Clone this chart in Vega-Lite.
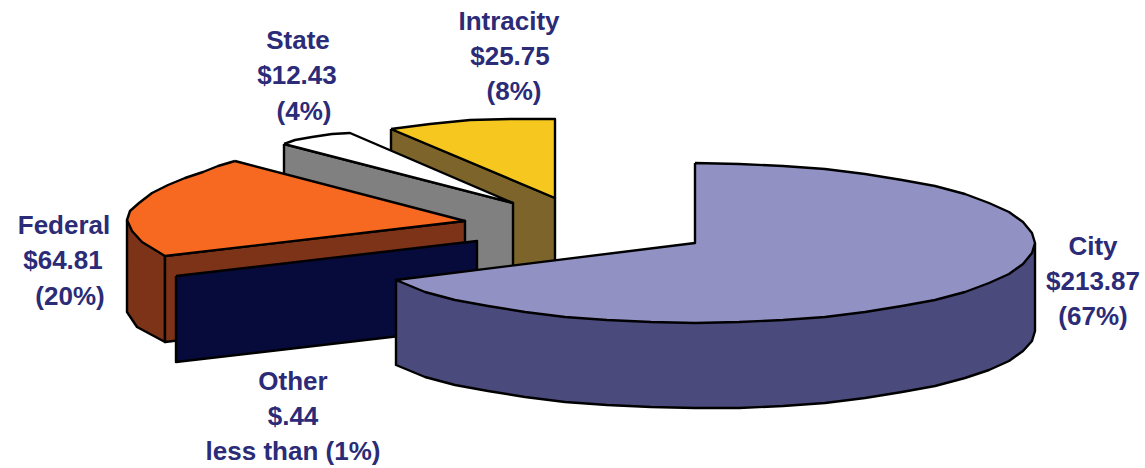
{"$schema":"https://vega.github.io/schema/vega-lite/v6.json","width":1145,"height":468,"autosize":{"type":"fit","contains":"padding"},"padding":0,"background":"white","view":{"stroke":null},"config":{"view":{"stroke":null}},
"layer":[
{"data":{"name":"outline"},"mark":{"type":"line","stroke":"black","strokeWidth":2.4,"strokeJoin":"round","interpolate":"linear"},"encoding":{
"x":{"field":"x","type":"quantitative","scale":{"domain":[0,1145],"nice":false,"zero":false},"axis":null},
"y":{"field":"y","type":"quantitative","scale":{"domain":[468,0],"nice":false,"zero":false},"axis":null},
"order":{"field":"i","type":"quantitative"},
"detail":{"field":"face","type":"nominal"},
"fill":{"field":"face","type":"nominal","legend":null,"scale":{"domain":["Intracity side","Intracity top","State side","State top","Federal side","Federal front","Federal top","Other","City side","City top"],"range":["#7C642A","#F6C81F","#808080","#FFFFFF","#7D3317","#7D3317","#F76820","#060B3B","#4A4A7C","#9191C3"]}}}},
{"data":{"name":"labels"},"mark":{"type":"text","font":"Liberation Sans","fontWeight":"bold","fontSize":26,"color":"#2B2B77","align":"center","baseline":"middle"},"encoding":{
"x":{"field":"x","type":"quantitative"},"y":{"field":"y","type":"quantitative"},"text":{"field":"line","type":"nominal"}}}
],
"datasets":{"labels":[
{"line":"City","x":1093,"y":247},{"line":"$213.87","x":1093,"y":282},{"line":"(67%)","x":1093,"y":317},
{"line":"State","x":298,"y":41},{"line":"$12.43","x":297,"y":76},{"line":"(4%)","x":304,"y":112},
{"line":"Intracity","x":509,"y":22},{"line":"$25.75","x":510,"y":57},{"line":"(8%)","x":514,"y":92},
{"line":"Federal","x":64,"y":226},{"line":"$64.81","x":63,"y":261},{"line":"(20%)","x":70,"y":297},
{"line":"Other","x":293,"y":382},{"line":"$.44","x":293,"y":417},{"line":"less than (1%)","x":293,"y":452}],
"outline":[
{"face":"Intracity side","i":0,"x":391,"y":129},{"face":"Intracity side","i":1,"x":555,"y":198},{"face":"Intracity side","i":2,"x":555,"y":295},{"face":"Intracity side","i":3,"x":391,"y":235},{"face":"Intracity side","i":4,"x":391,"y":129},
{"face":"Intracity top","i":0,"x":391,"y":129},{"face":"Intracity top","i":1,"x":430,"y":124},{"face":"Intracity top","i":2,"x":470,"y":120},{"face":"Intracity top","i":3,"x":510,"y":119},{"face":"Intracity top","i":4,"x":555,"y":119},{"face":"Intracity top","i":5,"x":555,"y":198},{"face":"Intracity top","i":6,"x":391,"y":129},
{"face":"State side","i":0,"x":284,"y":144},{"face":"State side","i":1,"x":513,"y":203},{"face":"State side","i":2,"x":513,"y":295},{"face":"State side","i":3,"x":284,"y":240},{"face":"State side","i":4,"x":284,"y":144},
{"face":"State top","i":0,"x":284,"y":144},{"face":"State top","i":1,"x":295,"y":140},{"face":"State top","i":2,"x":312,"y":137},{"face":"State top","i":3,"x":332,"y":134},{"face":"State top","i":4,"x":350,"y":133},{"face":"State top","i":5,"x":513,"y":203},{"face":"State top","i":6,"x":284,"y":144},
{"face":"Federal side","i":0,"x":127,"y":220},{"face":"Federal side","i":1,"x":127,"y":312},{"face":"Federal side","i":2,"x":137,"y":327},{"face":"Federal side","i":3,"x":165,"y":342},{"face":"Federal side","i":4,"x":165,"y":256},{"face":"Federal side","i":5,"x":127,"y":220},
{"face":"Federal front","i":0,"x":165,"y":256},{"face":"Federal front","i":1,"x":465,"y":221},{"face":"Federal front","i":2,"x":465,"y":305},{"face":"Federal front","i":3,"x":165,"y":342},{"face":"Federal front","i":4,"x":165,"y":256},
{"face":"Federal top","i":0,"x":235,"y":161},{"face":"Federal top","i":1,"x":218,"y":166},{"face":"Federal top","i":2,"x":203,"y":172},{"face":"Federal top","i":3,"x":185,"y":178},{"face":"Federal top","i":4,"x":168,"y":185},{"face":"Federal top","i":5,"x":152,"y":193},{"face":"Federal top","i":6,"x":139,"y":203},{"face":"Federal top","i":7,"x":130,"y":211},{"face":"Federal top","i":8,"x":127,"y":220},{"face":"Federal top","i":9,"x":132,"y":231},{"face":"Federal top","i":10,"x":142,"y":242},{"face":"Federal top","i":11,"x":165,"y":256},{"face":"Federal top","i":12,"x":465,"y":221},{"face":"Federal top","i":13,"x":235,"y":161},
{"face":"Other","i":0,"x":176,"y":276},{"face":"Other","i":1,"x":477,"y":241},{"face":"Other","i":2,"x":477,"y":327},{"face":"Other","i":3,"x":176,"y":362},{"face":"Other","i":4,"x":176,"y":276},
{"face":"City side","i":0,"x":1035,"y":243},{"face":"City side","i":1,"x":1035,"y":331},{"face":"City side","i":2,"x":1032,"y":341},{"face":"City side","i":3,"x":1023,"y":351},{"face":"City side","i":4,"x":1009,"y":361},{"face":"City side","i":5,"x":989,"y":370},{"face":"City side","i":6,"x":965,"y":378},{"face":"City side","i":7,"x":935,"y":386},{"face":"City side","i":8,"x":902,"y":392},{"face":"City side","i":9,"x":865,"y":398},{"face":"City side","i":10,"x":825,"y":403},{"face":"City side","i":11,"x":783,"y":406},{"face":"City side","i":12,"x":739,"y":408},{"face":"City side","i":13,"x":695,"y":408},{"face":"City side","i":14,"x":651,"y":407},{"face":"City side","i":15,"x":607,"y":405},{"face":"City side","i":16,"x":565,"y":402},{"face":"City side","i":17,"x":525,"y":397},{"face":"City side","i":18,"x":488,"y":391},{"face":"City side","i":19,"x":455,"y":385},{"face":"City side","i":20,"x":425,"y":377},{"face":"City side","i":21,"x":396,"y":365},{"face":"City side","i":22,"x":396,"y":281},{"face":"City side","i":23,"x":1035,"y":243},
{"face":"City top","i":0,"x":695,"y":163},{"face":"City top","i":1,"x":739,"y":164},{"face":"City top","i":2,"x":783,"y":166},{"face":"City top","i":3,"x":825,"y":169},{"face":"City top","i":4,"x":865,"y":174},{"face":"City top","i":5,"x":902,"y":180},{"face":"City top","i":6,"x":935,"y":186},{"face":"City top","i":7,"x":965,"y":194},{"face":"City top","i":8,"x":989,"y":203},{"face":"City top","i":9,"x":1009,"y":212},{"face":"City top","i":10,"x":1023,"y":222},{"face":"City top","i":11,"x":1032,"y":233},{"face":"City top","i":12,"x":1035,"y":243},{"face":"City top","i":13,"x":1032,"y":253},{"face":"City top","i":14,"x":1023,"y":264},{"face":"City top","i":15,"x":1009,"y":274},{"face":"City top","i":16,"x":989,"y":283},{"face":"City top","i":17,"x":965,"y":292},{"face":"City top","i":18,"x":935,"y":300},{"face":"City top","i":19,"x":902,"y":306},{"face":"City top","i":20,"x":865,"y":312},{"face":"City top","i":21,"x":825,"y":317},{"face":"City top","i":22,"x":783,"y":320},{"face":"City top","i":23,"x":739,"y":322},{"face":"City top","i":24,"x":695,"y":323},{"face":"City top","i":25,"x":651,"y":322},{"face":"City top","i":26,"x":607,"y":320},{"face":"City top","i":27,"x":565,"y":317},{"face":"City top","i":28,"x":525,"y":312},{"face":"City top","i":29,"x":488,"y":306},{"face":"City top","i":30,"x":455,"y":300},{"face":"City top","i":31,"x":425,"y":292},{"face":"City top","i":32,"x":396,"y":280},{"face":"City top","i":33,"x":695,"y":243},{"face":"City top","i":34,"x":695,"y":163}
]}}
